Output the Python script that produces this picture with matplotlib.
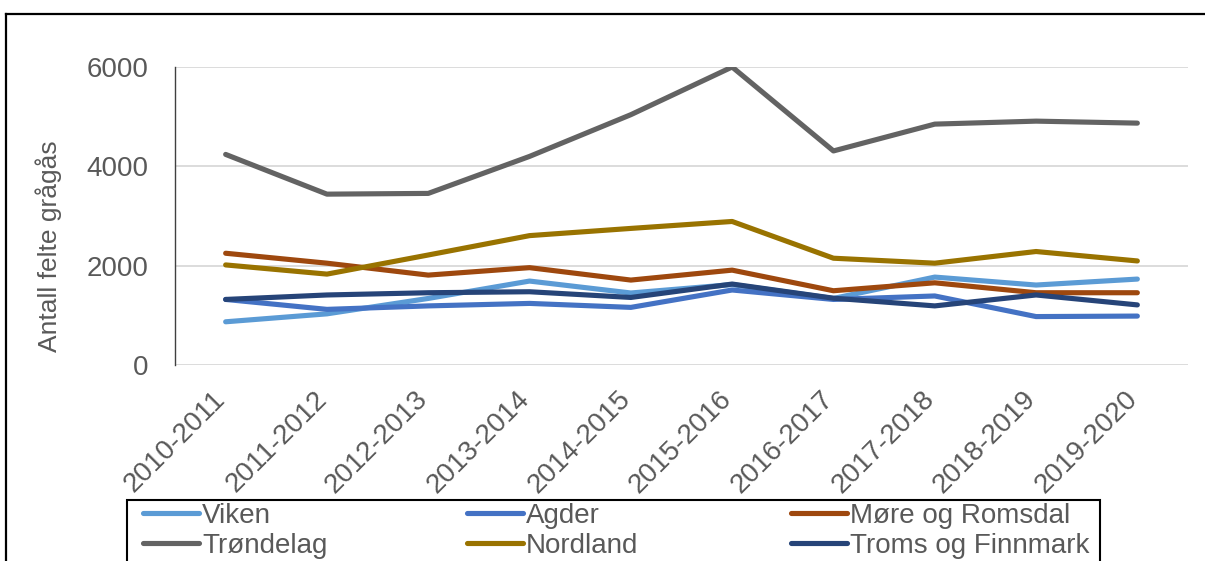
import matplotlib
matplotlib.use("Agg")
import matplotlib.pyplot as plt
from matplotlib.lines import Line2D
from matplotlib.patches import Rectangle
from matplotlib.transforms import ScaledTranslation

plt.rcParams['font.family'] = ['Liberation Sans', 'DejaVu Sans']

seasons = ["2010-2011", "2011-2012", "2012-2013", "2013-2014", "2014-2015",
           "2015-2016", "2016-2017", "2017-2018", "2018-2019", "2019-2020"]

viken = [870, 1030, 1340, 1690, 1450, 1620, 1340, 1770, 1610, 1730]
agder = [1320, 1120, 1190, 1240, 1160, 1510, 1320, 1390, 975, 985]
more_romsdal = [2250, 2050, 1810, 1960, 1710, 1910, 1495, 1655, 1455, 1455]
trondelag = [4240, 3440, 3455, 4200, 5040, 6000, 4310, 4850, 4910, 4870]
nordland = [2015, 1830, 2215, 2605, 2750, 2890, 2150, 2050, 2285, 2095]
troms_finnmark = [1320, 1410, 1455, 1475, 1360, 1630, 1345, 1190, 1410, 1210]

series = [
    ("Viken", viken, "#5B9BD5"),
    ("Agder", agder, "#4472C4"),
    ("Møre og Romsdal", more_romsdal, "#9E480E"),
    ("Trøndelag", trondelag, "#636363"),
    ("Nordland", nordland, "#997300"),
    ("Troms og Finnmark", troms_finnmark, "#264478"),
]

W, H = 1205, 561
fig = plt.figure(figsize=(W / 100, H / 100), dpi=100)
ax = fig.add_axes([175 / W, 1 - 365 / H, 1013 / W, (365 - 67) / H])

text_color = "#595959"
x = list(range(len(seasons)))
lines = {}
for name, vals, col in series:
    ln, = ax.plot(x, vals, color=col, lw=3.7, solid_capstyle="round",
                  solid_joinstyle="round", label=name, zorder=3)
    lines[name] = ln

ax.set_xlim(-0.5, len(seasons) - 0.5)
ax.set_ylim(0, 6000)
ax.set_yticks([0, 2000, 4000, 6000])
ax.set_xticks(x)
ax.set_xticklabels(seasons, rotation=45, ha="right")
ax.tick_params(axis="both", length=0, labelsize=20, labelcolor=text_color)
ax.tick_params(axis="y", pad=19)
ax.tick_params(axis="x", pad=15)
shift = ScaledTranslation(5 / 100, 0, fig.dpi_scale_trans)
for lbl in ax.get_xticklabels():
    lbl.set_transform(lbl.get_transform() + shift)
ax.grid(axis="y", color="#D9D9D9", lw=1.3, zorder=0)
ax.set_axisbelow(True)
for s in ("top", "right", "bottom"):
    ax.spines[s].set_visible(False)
ax.spines["left"].set_color("#404040")
ax.spines["left"].set_linewidth(1.0)

ax.set_ylabel("Antall felte grågås", fontsize=19, color=text_color)
ax.yaxis.set_label_coords((62 - 175) / 1013, 0.40)

# Legend: three columns, each its own frameless legend, inside one box
columns = [("Viken", "Trøndelag"), ("Agder", "Nordland"),
           ("Møre og Romsdal", "Troms og Finnmark")]
col_x = [143, 467, 791]
for names, cx in zip(columns, col_x):
    fig.legend([lines[n] for n in names], list(names),
               loc="upper left", bbox_to_anchor=(cx / W, 1 - 503 / H),
               frameon=False, borderpad=0, borderaxespad=0,
               handlelength=2.0, handletextpad=0.12, labelspacing=0.14,
               fontsize=20, labelcolor=text_color)
fig.add_artist(Rectangle((127 / W, -0.05), (1100 - 127) / W, 0.05 + 1 - 500 / H,
                         transform=fig.transFigure, fill=False,
                         edgecolor="black", lw=1.5, clip_on=False))

# Outer frame (top and left edges)
fig.add_artist(Line2D([6 / W, 1.0], [1 - 14 / H, 1 - 14 / H],
                      transform=fig.transFigure, color="black", lw=1.6))
fig.add_artist(Line2D([6 / W, 6 / W], [0, 1 - 14 / H],
                      transform=fig.transFigure, color="black", lw=1.6))

fig.savefig("out.png", dpi=100)
